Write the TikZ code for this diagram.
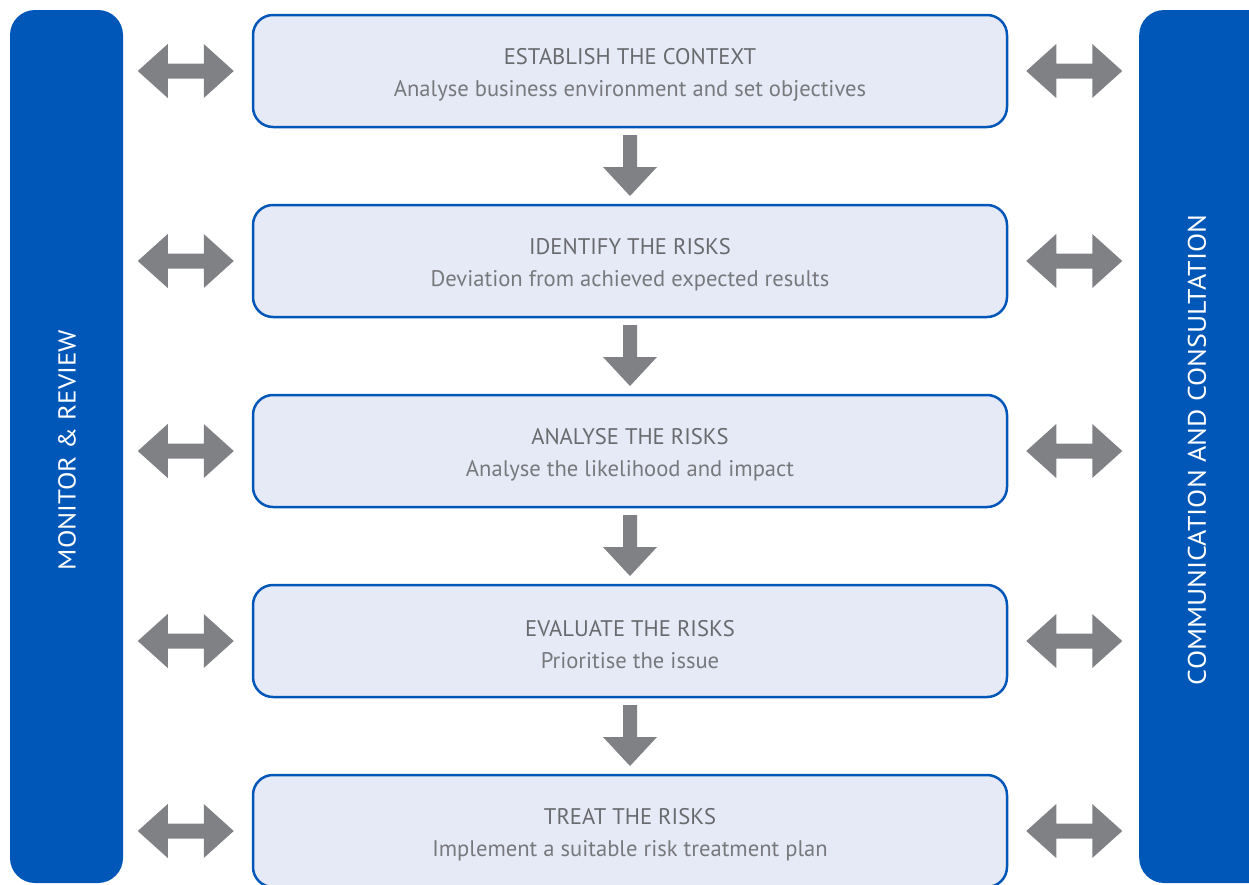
\documentclass[tikz,border=0pt]{standalone}
\usepackage{fontspec}
\setmainfont{PT Sans}
\newfontfamily\barfont[FakeStretch=1.1]{PT Sans}
\usetikzlibrary{calc}
\definecolor{barblue}{RGB}{0,87,184}
\definecolor{boxfill}{RGB}{230,234,246}
\definecolor{arrowgray}{RGB}{128,129,132}
\definecolor{titlegray}{RGB}{105,106,110}
\definecolor{subgray}{RGB}{120,121,125}
\tikzset{
  bar/.style={fill=barblue, rounded corners=25pt, inner sep=0pt},
  barlabel/.style={rotate=90, text=white, font=\barfont\fontsize{24.5}{28}\selectfont, inner sep=0pt},
  stage/.style={draw=barblue, line width=2.5pt, fill=boxfill, rounded corners=20pt, minimum width=754pt, minimum height=112pt, inner sep=0pt},
  stagetext/.style={align=center, text=titlegray, font=\fontsize{22.6}{32}\selectfont, inner sep=0pt},
  dblarrow/.pic={\fill[arrowgray] (-48,0) -- (-18,-27) -- (-18,-7.5) -- (18,-7.5) -- (18,-27) -- (48,0) -- (18,27) -- (18,7.5) -- (-18,7.5) -- (-18,27) -- cycle;},
  downarrow/.pic={\fill[arrowgray] (-7,-31) -- (7,-31) -- (7,1) -- (27,1) -- (0,30) -- (-27,1) -- (-7,1) -- cycle;}
}
\begin{document}
\begin{tikzpicture}[x=1pt,y=-1pt]
\useasboundingbox (0,0) rectangle (1249,884);
\node[bar, minimum width=113pt, minimum height=873pt] (monitor) at (66.5,446.5) {};
\node[bar, minimum width=150pt, minimum height=873pt, anchor=west] (comm) at (1139,446.5) {};
\node[barlabel] (monitorlbl) at (67,450) {MONITOR \& REVIEW};
\node[barlabel, font=\barfont\fontsize{25.4}{28}\selectfont] (commlbl) at (1197,450) {COMMUNICATION AND CONSULTATION};
\node[stage] (b1) at (630,71) {};
\node[stage] (b2) at (630,261) {};
\node[stage] (b3) at (630,451) {};
\node[stage] (b4) at (630,641) {};
\node[stage] (b5) at (630,831) {};
\node[stagetext] (t1) at ($(b1.center)+(0,4)$) {ESTABLISH THE CONTEXT\\{\color{subgray}Analyse business environment and set objectives}};
\node[stagetext] (t2) at ($(b2.center)+(0,4)$) {IDENTIFY THE RISKS\\{\color{subgray}Deviation from achieved expected results}};
\node[stagetext] (t3) at ($(b3.center)+(0,4)$) {ANALYSE THE RISKS\\{\color{subgray}Analyse the likelihood and impact}};
\node[stagetext] (t4) at ($(b4.center)+(0,4)$) {EVALUATE THE RISKS\\{\color{subgray}Prioritise the issue}};
\node[stagetext] (t5) at ($(b5.center)+(0,4)$) {TREAT THE RISKS\\{\color{subgray}Implement a suitable risk treatment plan}};
\foreach \a/\b in {b1/b2,b2/b3,b3/b4,b4/b5}{
  \coordinate (m\a) at ($(\a.south)!0.5!(\b.north)$);
  \pic at (m\a) {downarrow};
}
\foreach \b in {b1,b2,b3,b4,b5}{
  \pic at ($(\b.west)+(-66,0)$) {dblarrow};
  \pic at ($(\b.east)+(66,0)$) {dblarrow};
}
\end{tikzpicture}
\end{document}
